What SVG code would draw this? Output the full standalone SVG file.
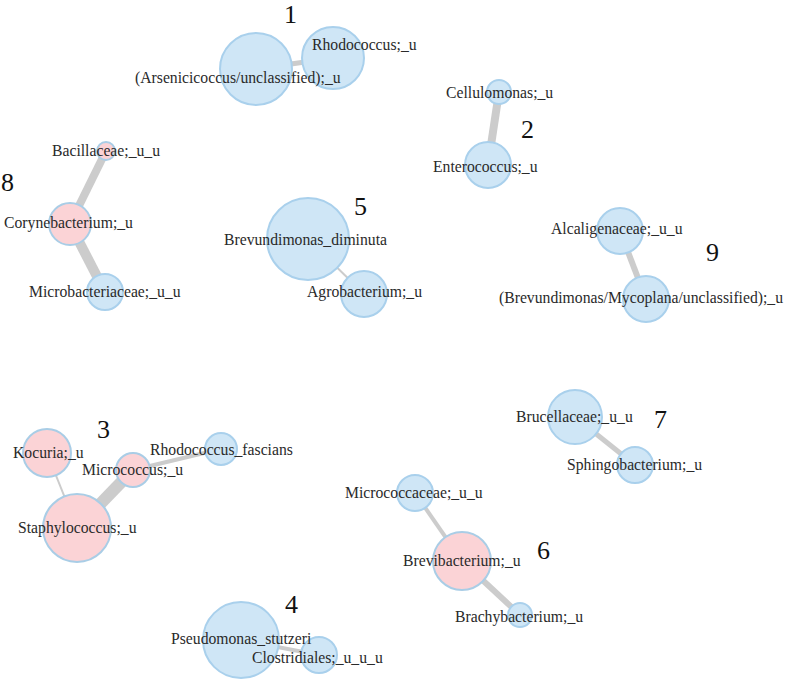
<svg xmlns="http://www.w3.org/2000/svg" width="787" height="679" viewBox="0 0 787 679">
<style>
.b{fill:#cfe6f6;stroke:#a9d0ec;stroke-width:2}
.p{fill:#fbd3d6;stroke:#a9cde6;stroke-width:2}
.l{font-family:"Liberation Serif","Times New Roman",serif;font-size:15.7px;fill:#2a2a2a}
.n{font-family:"Liberation Serif","Times New Roman",serif;font-size:26px;fill:#111}
.e{stroke:#cccccc;fill:none;stroke-linecap:butt}
</style>
<rect width="787" height="679" fill="#ffffff"/>
<g id="connectors">
<line class="e" x1="256" y1="69" x2="333" y2="58" stroke-width="5"/>
<line class="e" x1="499" y1="92" x2="488" y2="165" stroke-width="8"/>
<line class="e" x1="106" y1="151" x2="70" y2="224" stroke-width="8"/>
<line class="e" x1="70" y1="224" x2="105" y2="292" stroke-width="10"/>
<line class="e" x1="308" y1="239" x2="364" y2="294" stroke-width="2"/>
<line class="e" x1="620" y1="231" x2="646" y2="299" stroke-width="6"/>
<line class="e" x1="47" y1="453" x2="77" y2="528" stroke-width="2"/>
<line class="e" x1="133" y1="470" x2="77" y2="528" stroke-width="12"/>
<line class="e" x1="133" y1="470" x2="221" y2="449" stroke-width="4"/>
<line class="e" x1="415" y1="493" x2="462" y2="561" stroke-width="4"/>
<line class="e" x1="462" y1="561" x2="520" y2="615" stroke-width="6"/>
<line class="e" x1="575" y1="417" x2="635" y2="465" stroke-width="5"/>
<line class="e" x1="241" y1="640" x2="319" y2="655" stroke-width="4"/>
</g>
<g id="n_arsenicicoccus"><circle class="b" cx="256" cy="69" r="36"/></g>
<g id="n_rhodococcus"><circle class="b" cx="333" cy="58" r="31"/></g>
<g id="n_cellulomonas"><circle class="b" cx="499" cy="92" r="12"/></g>
<g id="n_enterococcus"><circle class="b" cx="488" cy="165" r="23"/></g>
<g id="n_bacillaceae"><circle class="p" cx="106" cy="151" r="9"/></g>
<g id="n_corynebacterium"><circle class="p" cx="70" cy="224" r="21"/></g>
<g id="n_microbacteriaceae"><circle class="b" cx="105" cy="292" r="18"/></g>
<g id="n_brevundimonas_diminuta"><circle class="b" cx="308" cy="239" r="41"/></g>
<g id="n_agrobacterium"><circle class="b" cx="364" cy="294" r="23"/></g>
<g id="n_alcaligenaceae"><circle class="b" cx="620" cy="231" r="23"/></g>
<g id="n_brev_myco"><circle class="b" cx="646" cy="299" r="23"/></g>
<g id="n_kocuria"><circle class="p" cx="47" cy="453" r="24"/></g>
<g id="n_micrococcus"><circle class="p" cx="133" cy="470" r="17"/></g>
<g id="n_rhodococcus_fascians"><circle class="b" cx="221" cy="449" r="16"/></g>
<g id="n_staphylococcus"><circle class="p" cx="77" cy="528" r="34"/></g>
<g id="n_micrococcaceae"><circle class="b" cx="415" cy="493" r="18"/></g>
<g id="n_brevibacterium"><circle class="p" cx="462" cy="561" r="29"/></g>
<g id="n_brachybacterium"><circle class="b" cx="520" cy="615" r="12"/></g>
<g id="n_brucellaceae"><circle class="b" cx="575" cy="417" r="27"/></g>
<g id="n_sphingobacterium"><circle class="b" cx="635" cy="465" r="18"/></g>
<g id="n_pseudomonas"><circle class="b" cx="241" cy="640" r="38"/></g>
<g id="n_clostridiales"><circle class="b" cx="319" cy="655" r="18"/></g>
<g id="labels">
<text class="l" x="135" y="83">(Arsenicicoccus/unclassified);_u</text>
<text class="l" x="312" y="50">Rhodococcus;_u</text>
<text class="l" x="446" y="98">Cellulomonas;_u</text>
<text class="l" x="433" y="172">Enterococcus;_u</text>
<text class="l" x="52" y="156">Bacillaceae;_u_u</text>
<text class="l" x="4" y="228">Corynebacterium;_u</text>
<text class="l" x="29" y="297">Microbacteriaceae;_u_u</text>
<text class="l" x="224" y="245">Brevundimonas_diminuta</text>
<text class="l" x="307" y="297">Agrobacterium;_u</text>
<text class="l" x="551" y="234">Alcaligenaceae;_u_u</text>
<text class="l" x="499" y="303">(Brevundimonas/Mycoplana/unclassified);_u</text>
<text class="l" x="13" y="458">Kocuria;_u</text>
<text class="l" x="82" y="475">Micrococcus;_u</text>
<text class="l" x="150" y="455">Rhodococcus_fascians</text>
<text class="l" x="18" y="533">Staphylococcus;_u</text>
<text class="l" x="345" y="498">Micrococcaceae;_u_u</text>
<text class="l" x="403" y="566">Brevibacterium;_u</text>
<text class="l" x="455" y="622">Brachybacterium;_u</text>
<text class="l" x="516" y="422">Brucellaceae;_u_u</text>
<text class="l" x="567" y="470">Sphingobacterium;_u</text>
<text class="l" x="171" y="644">Pseudomonas_stutzeri</text>
<text class="l" x="252" y="663">Clostridiales;_u_u_u</text>
</g>
<g id="numbers">
<text class="n" x="284" y="23">1</text>
<text class="n" x="521" y="138">2</text>
<text class="n" x="97" y="438">3</text>
<text class="n" x="285" y="613">4</text>
<text class="n" x="354" y="215">5</text>
<text class="n" x="537" y="559">6</text>
<text class="n" x="654" y="428">7</text>
<text class="n" x="1" y="191">8</text>
<text class="n" x="706" y="261">9</text>
</g>
</svg>
